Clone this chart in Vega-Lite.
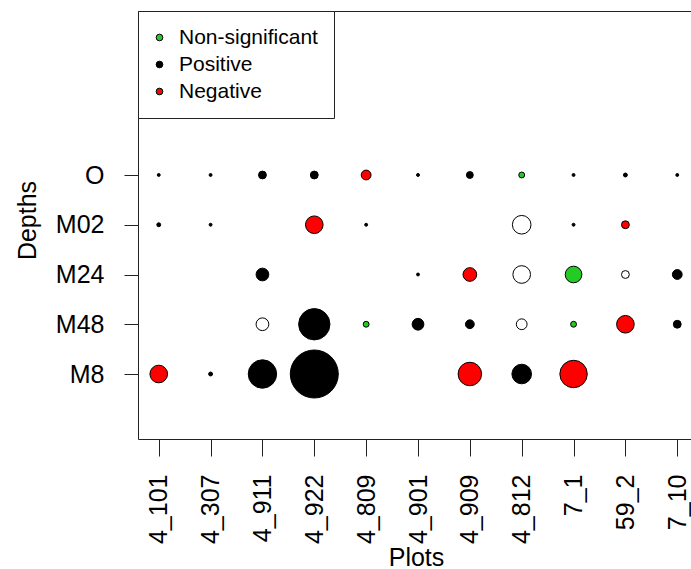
{
  "$schema": "https://vega.github.io/schema/vega-lite/v6.json",
  "width": 560,
  "height": 428,
  "autosize": "none",
  "padding": {"left": 138, "top": 11, "right": -7, "bottom": 130},
  "background": "white",
  "data": {
    "values": [
      {"plot": "4_101", "depth": "O", "magnitude": 3, "effect": "Positive"},
      {"plot": "4_307", "depth": "O", "magnitude": 3, "effect": "Positive"},
      {"plot": "4_911", "depth": "O", "magnitude": 8, "effect": "Positive"},
      {"plot": "4_922", "depth": "O", "magnitude": 8, "effect": "Positive"},
      {"plot": "4_809", "depth": "O", "magnitude": 10, "effect": "Negative"},
      {"plot": "4_901", "depth": "O", "magnitude": 3, "effect": "Positive"},
      {"plot": "4_909", "depth": "O", "magnitude": 7, "effect": "Positive"},
      {"plot": "4_812", "depth": "O", "magnitude": 6, "effect": "Non-significant"},
      {"plot": "7_1", "depth": "O", "magnitude": 3, "effect": "Positive"},
      {"plot": "59_2", "depth": "O", "magnitude": 4, "effect": "Positive"},
      {"plot": "7_10", "depth": "O", "magnitude": 3, "effect": "Positive"},
      {"plot": "4_101", "depth": "M02", "magnitude": 4, "effect": "Positive"},
      {"plot": "4_307", "depth": "M02", "magnitude": 3, "effect": "Positive"},
      {"plot": "4_922", "depth": "M02", "magnitude": 18, "effect": "Negative"},
      {"plot": "4_809", "depth": "M02", "magnitude": 3, "effect": "Positive"},
      {"plot": "4_812", "depth": "M02", "magnitude": 19, "effect": "Unclassified"},
      {"plot": "7_1", "depth": "M02", "magnitude": 3, "effect": "Positive"},
      {"plot": "59_2", "depth": "M02", "magnitude": 8, "effect": "Negative"},
      {"plot": "4_911", "depth": "M24", "magnitude": 13, "effect": "Positive"},
      {"plot": "4_901", "depth": "M24", "magnitude": 3, "effect": "Positive"},
      {"plot": "4_909", "depth": "M24", "magnitude": 14, "effect": "Negative"},
      {"plot": "4_812", "depth": "M24", "magnitude": 18, "effect": "Unclassified"},
      {"plot": "7_1", "depth": "M24", "magnitude": 17, "effect": "Non-significant"},
      {"plot": "59_2", "depth": "M24", "magnitude": 8, "effect": "Unclassified"},
      {"plot": "7_10", "depth": "M24", "magnitude": 10, "effect": "Positive"},
      {"plot": "4_911", "depth": "M48", "magnitude": 13, "effect": "Unclassified"},
      {"plot": "4_922", "depth": "M48", "magnitude": 32, "effect": "Positive"},
      {"plot": "4_809", "depth": "M48", "magnitude": 6, "effect": "Non-significant"},
      {"plot": "4_901", "depth": "M48", "magnitude": 12, "effect": "Positive"},
      {"plot": "4_909", "depth": "M48", "magnitude": 9, "effect": "Positive"},
      {"plot": "4_812", "depth": "M48", "magnitude": 11, "effect": "Unclassified"},
      {"plot": "7_1", "depth": "M48", "magnitude": 6, "effect": "Non-significant"},
      {"plot": "59_2", "depth": "M48", "magnitude": 18, "effect": "Negative"},
      {"plot": "7_10", "depth": "M48", "magnitude": 8, "effect": "Positive"},
      {"plot": "4_101", "depth": "M8", "magnitude": 18, "effect": "Negative"},
      {"plot": "4_307", "depth": "M8", "magnitude": 4, "effect": "Positive"},
      {"plot": "4_911", "depth": "M8", "magnitude": 29, "effect": "Positive"},
      {"plot": "4_922", "depth": "M8", "magnitude": 49, "effect": "Positive"},
      {"plot": "4_909", "depth": "M8", "magnitude": 24, "effect": "Negative"},
      {"plot": "4_812", "depth": "M8", "magnitude": 20, "effect": "Positive"},
      {"plot": "7_1", "depth": "M8", "magnitude": 28, "effect": "Negative"}
    ]
  },
  "config": {
    "view": {"stroke": "#222", "strokeWidth": 1},
    "font": "Liberation Sans",
    "axis": {
      "domain": false,
      "tickColor": "#222",
      "tickWidth": 1,
      "labelColor": "black",
      "titleColor": "black",
      "grid": false,
      "labelFont": "Liberation Sans",
      "titleFont": "Liberation Sans",
      "titleFontWeight": "normal"
    }
  },
  "mark": {"type": "point", "filled": true, "shape": "circle", "stroke": "black", "strokeWidth": 1, "opacity": 1},
  "encoding": {
    "x": {
      "field": "plot",
      "type": "nominal",
      "sort": ["4_101", "4_307", "4_911", "4_922", "4_809", "4_901", "4_909", "4_812", "7_1", "59_2", "7_10"],
      "scale": {"type": "point", "padding": 0.4},
      "axis": {
        "orient": "bottom",
        "title": "Plots",
        "labelAngle": -90,
        "labelFontSize": 25,
        "tickSize": 17,
        "labelPadding": 18,
        "titleFontSize": 25,
        "titleX": 278,
        "titleY": 126,
        "titleBaseline": "alphabetic"
      }
    },
    "y": {
      "field": "depth",
      "type": "nominal",
      "sort": ["O", "M02", "M24", "M48", "M8"],
      "scale": {"type": "point", "padding": 0, "range": [164, 363]},
      "axis": {
        "title": "Depths",
        "labelFontSize": 25,
        "tickSize": 14,
        "labelPadding": 20,
        "titleFontSize": 25,
        "titleX": -111,
        "titleY": 209,
        "titleBaseline": "middle",
        "titleAngle": -90
      }
    },
    "fill": {
      "field": "effect",
      "type": "nominal",
      "scale": {
        "domain": ["Non-significant", "Positive", "Negative", "Unclassified"],
        "range": ["#22CC22", "black", "#FF0000", "white"]
      },
      "legend": {
        "values": ["Non-significant", "Positive", "Negative"],
        "title": null,
        "orient": "top-left",
        "offset": 0,
        "symbolType": "circle",
        "symbolSize": 45,
        "symbolStrokeColor": "black",
        "symbolStrokeWidth": 1,
        "labelFontSize": 21,
        "labelFont": "Liberation Sans",
        "labelColor": "black",
        "strokeColor": "#222",
        "fillColor": "white",
        "padding": 16,
        "rowPadding": 5,
        "labelOffset": 9,
        "symbolOffset": -5
      }
    },
    "size": {
      "field": "magnitude",
      "type": "quantitative",
      "scale": {"type": "pow", "exponent": 2, "domain": [0, 50], "range": [0, 2400]},
      "legend": null
    }
  }
}
